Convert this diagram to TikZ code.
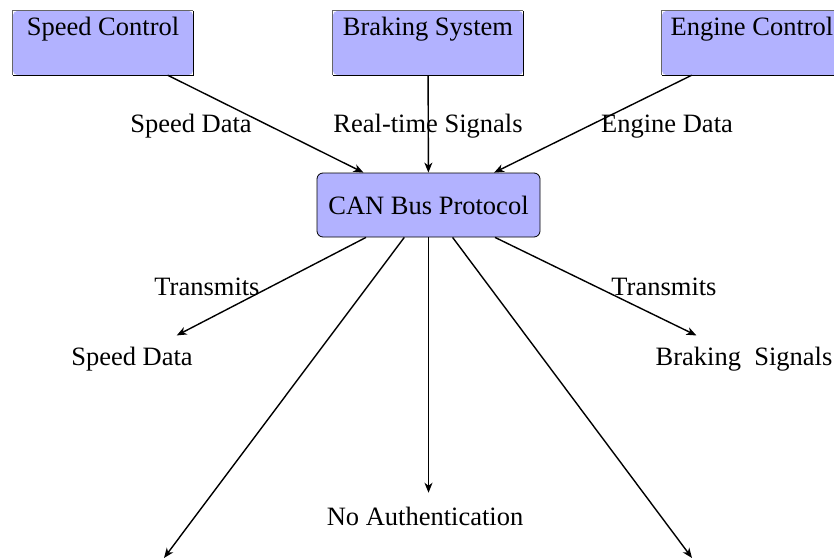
\documentclass[tikz,border=0pt]{standalone}
\usepackage{fontspec}
\setmainfont{Liberation Serif}
\usetikzlibrary{arrows.meta}

\begin{document}
\begin{tikzpicture}[x=1pt,y=-1pt,
  every node/.style={font=\fontsize{26.5}{30}\selectfont},
  arr/.style={draw=black, line width=1.4pt, -{Stealth[length=10pt,width=8pt,inset=3pt]}},
  ecu/.style={rectangle, minimum height=64pt, inner sep=0pt},
  busbox/.style={rectangle, rounded corners=6pt, draw=black, line width=0.8pt,
                 fill=blue!30, minimum width=223pt, minimum height=64pt, inner sep=0pt},
  lbl/.style={inner sep=0pt, anchor=base},
  sink/.style={inner sep=0pt, minimum height=46pt, anchor=base}
]
\clip (0,0) rectangle (834,559);
\fill[white] (0,0) rectangle (834,559);

% control units along the top
\node[ecu, minimum width=180pt] (sc) at (103,43) {};
\node[ecu, minimum width=190pt] (bs) at (428,43) {};
\node[ecu, minimum width=190pt] (ec) at (757,43) {};
\foreach \n in {sc,bs,ec}{
  \fill[blue!30, rounded corners=5pt] (\n.south west) rectangle (\n.north east);
  \draw[black!60, line width=0.9pt] (\n.south west) -- (\n.north west) -- (\n.north east);
  \draw[black, line width=1pt] (\n.north east) -- (\n.south east) -- (\n.south west);
}
\node[lbl] (sct) at (103,36) {Speed Control};
\node[lbl] (bst) at (428,36) {Braking System};
\node[lbl] (ect) at (752,36) {Engine Control};

% the bus
\node[busbox] (can) at (428.5,205) {CAN Bus Protocol};

% inputs
\draw[arr] (sc) -- (can);
\draw[arr] (bs) -- (can);
\draw[arr] (ec) -- (can);
\node[lbl] (l1) at (191,132) {Speed Data};
\node[lbl] (l2) at (428,132) {Real-time Signals};
\node[lbl] (l3) at (667,132) {Engine Data};

% outputs
\node[sink] (sdo) at (132,365) {Speed Data};
\node[sink] (bso) at (744,365) {Braking~~Signals};
\node[sink] (na) at (425,525) {No Authentication};
\coordinate (bl) at (164,558);
\coordinate (br) at (692,558);

\draw[arr] (can) -- (sdo);
\draw[arr] (can) -- (bso);
\draw[arr] (can.south) -- (can.south |- na.north);
\draw[arr] (can) -- (bl);
\draw[arr] (can) -- (br);
\node[lbl] (t1) at (207,295) {Transmits};
\node[lbl] (t2) at (664,295) {Transmits};
\end{tikzpicture}
\end{document}
